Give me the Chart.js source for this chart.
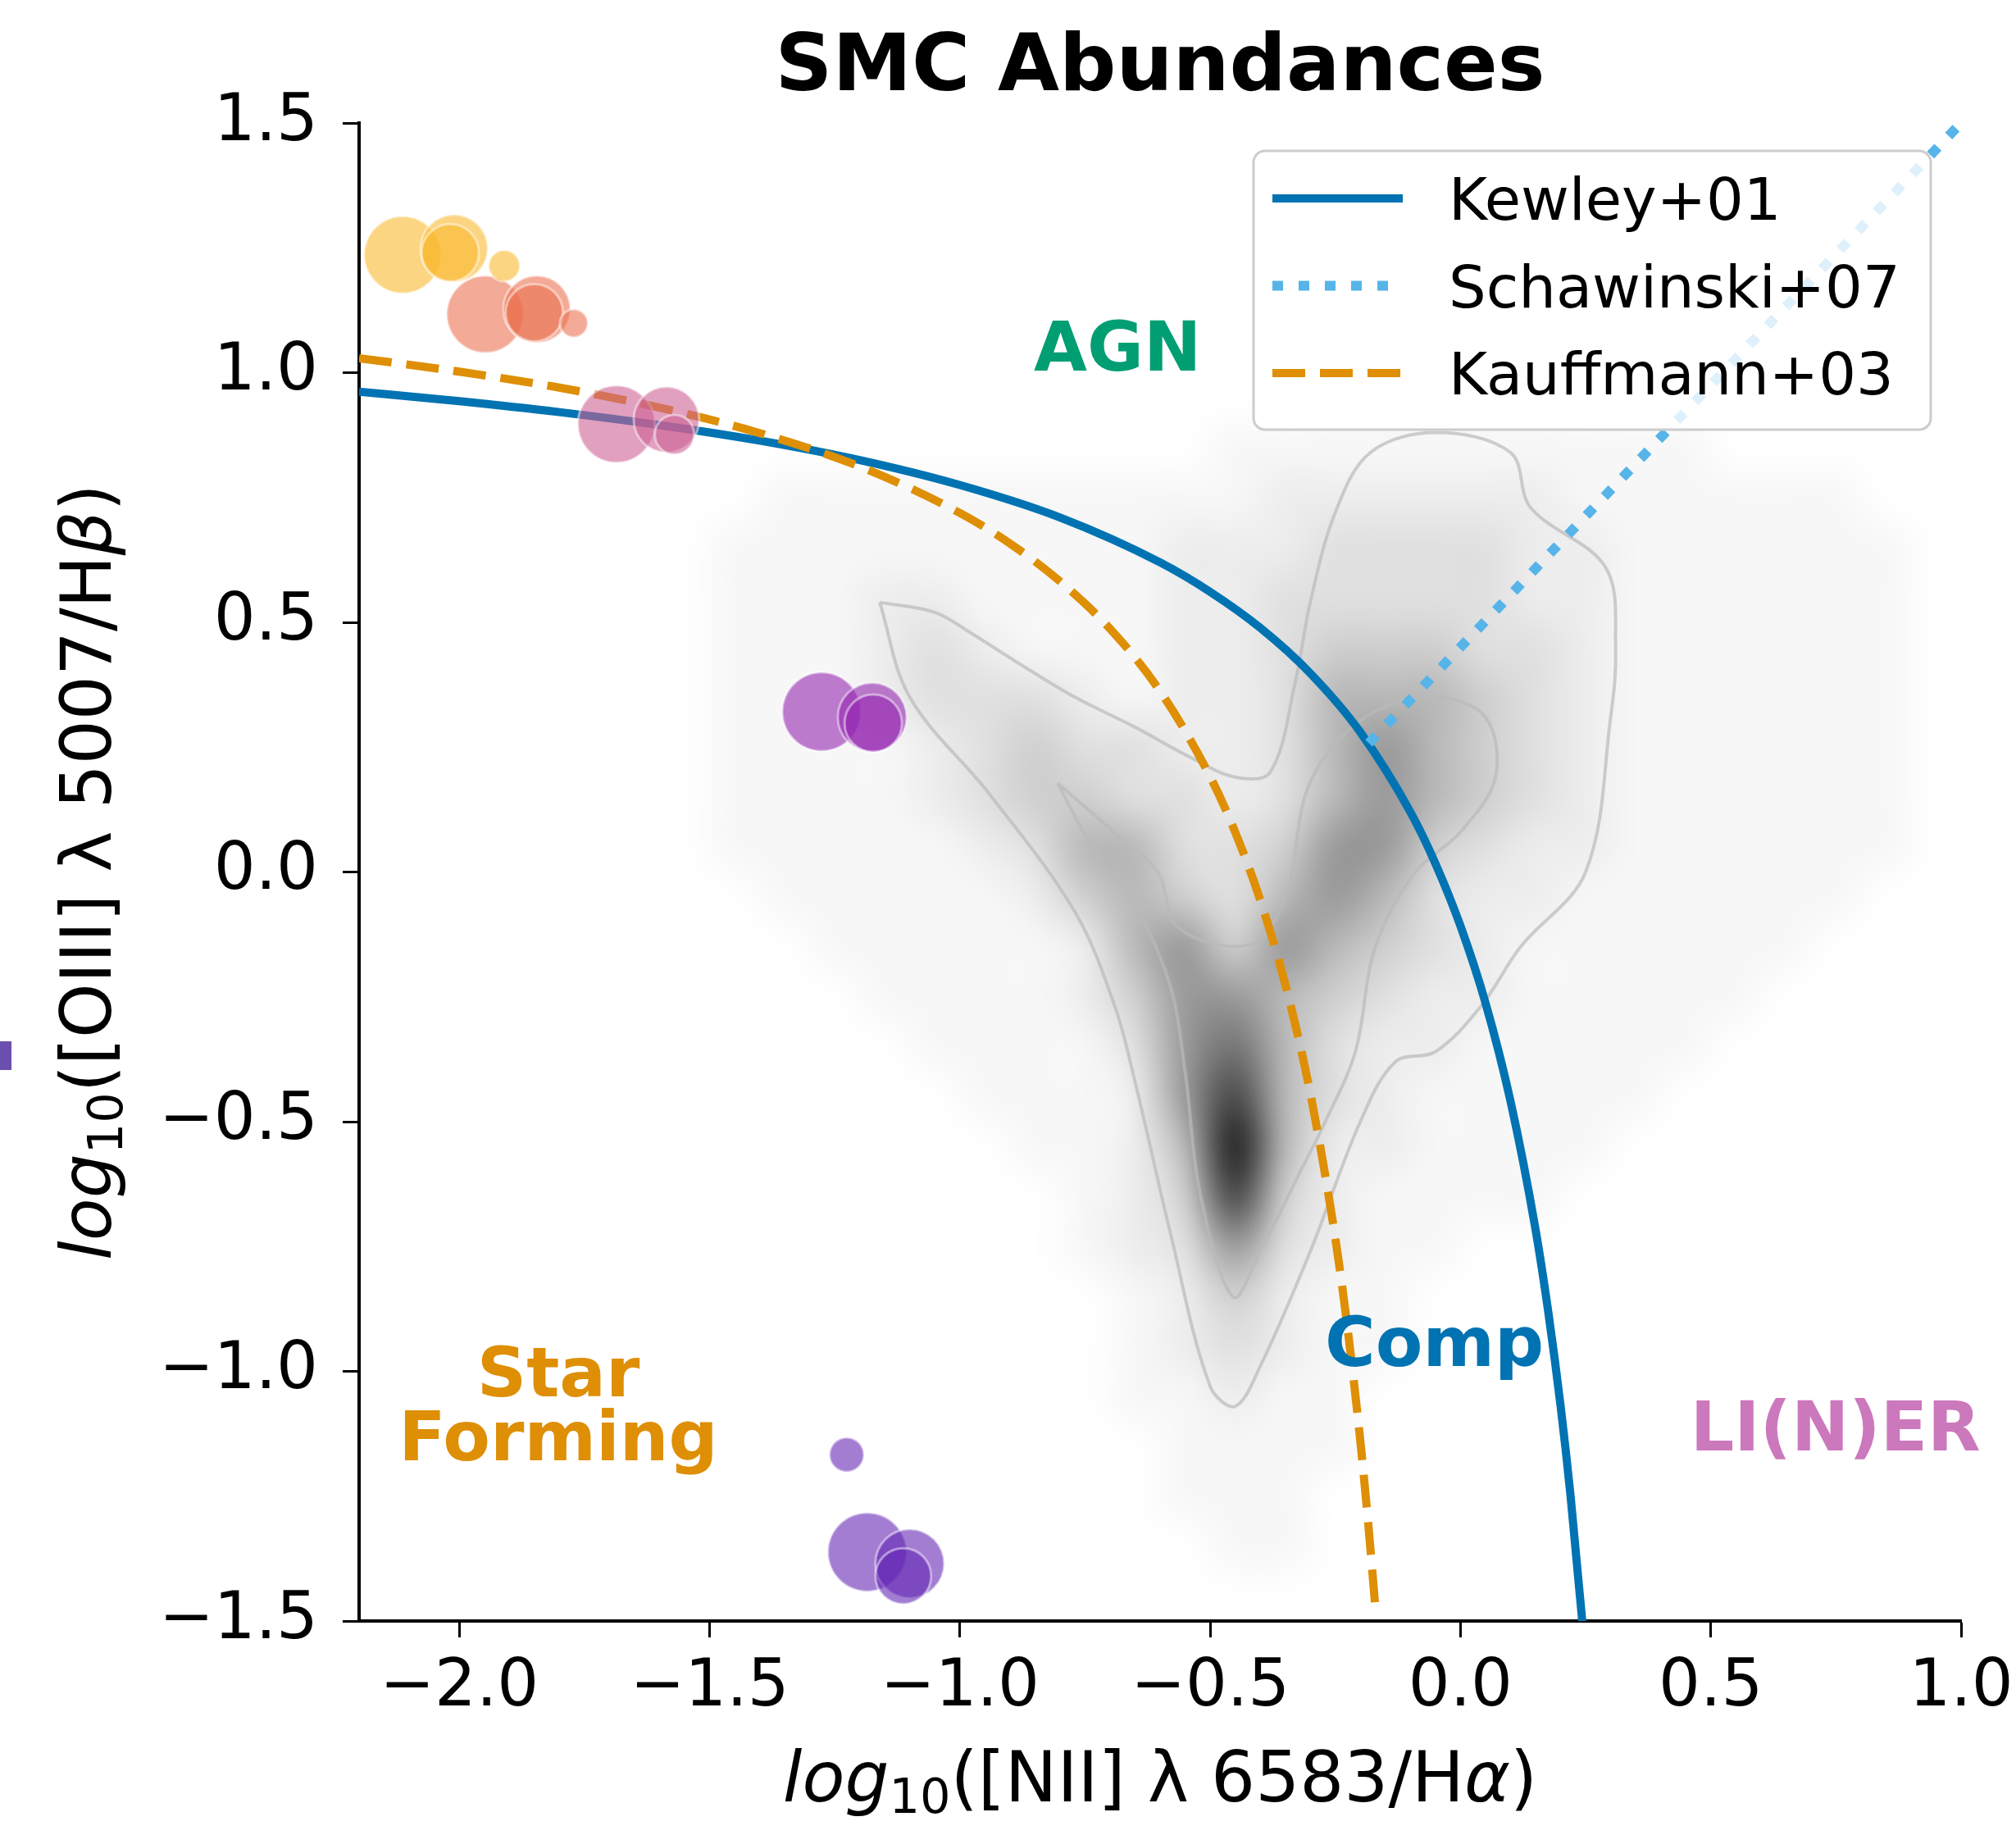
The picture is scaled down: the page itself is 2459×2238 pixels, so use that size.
<!DOCTYPE html>
<html>
<head>
<meta charset="utf-8">
<title>SMC Abundances</title>
<script src="https://cdn.jsdelivr.net/npm/chart.js@4.4.0/dist/chart.umd.min.js"></script>
<style>
html, body { margin:0; padding:0; background:#fff; }
#wrap { width:2459px; height:2238px; }
</style>
</head>
<body>
<div id="wrap"><canvas id="bpt" width="2459" height="2238"></canvas></div>
<script>
// === AXES ===
const xTicks = [-2.0, -1.5, -1.0, -0.5, 0.0, 0.5, 1.0];
const yTicks = [-1.5, -1.0, -0.5, 0.0, 0.5, 1.0, 1.5];

// === DEMARCATION LINES ===
const kewleyX = [-2.2, -2.0, -1.8, -1.6, -1.4, -1.2, -1.0, -0.8, -0.6, -0.5, -0.4, -0.3, -0.2, -0.1, -0.05, 0.0, 0.05, 0.1, 0.15, 0.175, 0.2, 0.22, 0.243, 0.25];
const kewleyY = [0.962, 0.943, 0.921, 0.895, 0.864, 0.825, 0.775, 0.710, 0.620, 0.561, 0.489, 0.398, 0.280, 0.120, 0.017, -0.108, -0.262, -0.459, -0.716, -0.878, -1.069, -1.250, -1.497, -1.583];

const kauffX = [-2.2, -2.0, -1.8, -1.6, -1.4, -1.2, -1.0, -0.9, -0.8, -0.7, -0.6, -0.5, -0.45, -0.4, -0.35, -0.3, -0.25, -0.225, -0.2, -0.185, -0.17];
const kauffY = [1.029, 1.002, 0.970, 0.930, 0.879, 0.812, 0.719, 0.658, 0.582, 0.487, 0.362, 0.191, 0.080, -0.056, -0.225, -0.443, -0.733, -0.918, -1.140, -1.296, -1.473];

const schawX = [-0.183, 1.0];
const schawY = [0.258, 1.5];

// === SMC POINTS ===
const bubbleX = [-2.113, -2.010, -2.018, -1.910,  -1.948, -1.845, -1.850, -1.771,  -1.686, -1.586, -1.570,  -1.276, -1.175, -1.173,  -1.226, -1.185, -1.100, -1.113];
const bubbleY = [1.236, 1.249, 1.240, 1.214,  1.117, 1.127, 1.120, 1.099,  0.897, 0.906, 0.876,  0.321, 0.310, 0.298,  -1.167, -1.362, -1.385, -1.410];
const bubbleSize = [47, 41, 35, 19,  47, 41, 35, 17,  47, 40, 24,  48, 42, 35,  21, 48, 42, 34];
const bubbleGroup = [0, 0, 0, 0,  1, 1, 1, 1,  2, 2, 2,  3, 3, 3,  4, 4, 4, 4];
const groupColors = ['rgba(250,185,47,0.6)', 'rgba(235,113,80,0.6)', 'rgba(205,97,147,0.6)', 'rgba(149,38,177,0.6)', 'rgba(100,38,180,0.6)'];

// === SDSS BACKGROUND: 2D histogram, 0.1 dex cells, levels 0-9 ===
const histX0 = -1.6;   // left edge of first column
const histY0 = 1.0;    // top edge of first row
const histStep = 0.1;
const histRows = [
  '00000000000001111100000000', //  0.95
  '00000000000111111111100000', //  0.85
  '00111111111122222211111100', //  0.75
  '01111111112223333221111110', //  0.65
  '01112211112233333221111110', //  0.55
  '01112321112234443321111110', //  0.45
  '01112333212235554321111110', //  0.35
  '01111234332235654321111110', //  0.25
  '01111234433235654321111110', //  0.15
  '01111123553346643221111110', //  0.05
  '00111112454356532211111100', // -0.05
  '00011111256465432111111000', // -0.15
  '00001111246654322111110000', // -0.25
  '00000111136753221111100000', // -0.35
  '00000011126853211111000000', // -0.45
  '00000001125952211110000000', // -0.55
  '00000000124842111100000000', // -0.65
  '00000000123632110000000000', // -0.75
  '00000000012421100000000000', // -0.85
  '00000000012321100000000000', // -0.95
  '00000000011211000000000000', // -1.05
  '00000000001111000000000000', // -1.15
  '00000000001110000000000000', // -1.25
  '00000000000110000000000000', // -1.35
  '00000000000000000000000000'  // -1.45
];
const grayLevels = [0, 0.03, 0.07, 0.12, 0.19, 0.28, 0.40, 0.55, 0.72, 0.88];

// contour outlines of the SDSS distribution
const outerContX = [-1.16, -1.05, -0.98, -0.87, -0.77, -0.65, -0.54, -0.45, -0.38, -0.33, -0.30, -0.25, -0.18, -0.05, 0.10, 0.14, 0.29, 0.31, 0.30, 0.25, 0.12, 0.04, -0.05, -0.13, -0.20, -0.30, -0.40, -0.45, -0.50, -0.58, -0.65, -0.69, -0.77, -0.94, -1.10, -1.16];
const outerContY = [0.54, 0.52, 0.48, 0.41, 0.35, 0.29, 0.23, 0.19, 0.20, 0.38, 0.54, 0.72, 0.84, 0.88, 0.84, 0.73, 0.61, 0.45, 0.31, 0.00, -0.15, -0.27, -0.36, -0.38, -0.50, -0.76, -0.99, -1.07, -1.03, -0.72, -0.42, -0.27, -0.08, 0.155, 0.35, 0.54];
const innerContX = [-0.805, -0.69, -0.605, -0.563, -0.42, -0.35, -0.30, -0.19, -0.05, 0.05, 0.07, 0.00, -0.09, -0.17, -0.21, -0.27, -0.32, -0.40, -0.454, -0.52, -0.55, -0.58, -0.646, -0.73, -0.805];
const innerContY = [0.178, 0.078, 0.0, -0.112, -0.145, -0.05, 0.18, 0.31, 0.35, 0.31, 0.19, 0.08, 0.0, -0.15, -0.36, -0.50, -0.60, -0.76, -0.851, -0.644, -0.40, -0.227, -0.075, 0.04, 0.178];

// === TEXT ===
const titleText = 'SMC Abundances';
const regionLabels = [
  { text: 'AGN', x: -0.685, y: 1.004, color: '#029e73' },
  { text: 'Comp', x: -0.052, y: -0.989, color: '#0173b2' },
  { text: 'Star', x: -1.802, y: -1.050, color: '#de8f05' },
  { text: 'Forming', x: -1.802, y: -1.178, color: '#de8f05' },
  { text: 'LI(N)ER', x: 0.749, y: -1.158, color: '#cc78bc' }
];

const FONT = '"DejaVu Sans", "Liberation Sans", sans-serif';
const pts = (xs, ys) => xs.map((v, i) => ({ x: v, y: ys[i] }));
const fmt = v => Math.abs(v) < 1e-9 ? '0.0' : (v < 0 ? '\u2212' + Math.abs(v).toFixed(1) : v.toFixed(1));

// === PLUGINS ===
const histPlugin = {
  id: 'sdssHist',
  beforeDatasetsDraw(chart) {
    const { ctx, chartArea, scales: { x, y } } = chart;
    const nx = histRows[0].length, ny = histRows.length;
    const off = document.createElement('canvas');
    off.width = nx; off.height = ny;
    const octx = off.getContext('2d');
    const img = octx.createImageData(nx, ny);
    for (let j = 0; j < ny; j++) {
      for (let i = 0; i < nx; i++) {
        const k = (j * nx + i) * 4;
        img.data[k] = 0; img.data[k + 1] = 0; img.data[k + 2] = 0;
        img.data[k + 3] = Math.round(grayLevels[+histRows[j][i]] * 255);
      }
    }
    octx.putImageData(img, 0, 0);
    const left = x.getPixelForValue(histX0), right = x.getPixelForValue(histX0 + nx * histStep);
    const top = y.getPixelForValue(histY0), bottom = y.getPixelForValue(histY0 - ny * histStep);
    ctx.save();
    ctx.beginPath();
    ctx.rect(chartArea.left, chartArea.top, chartArea.right - chartArea.left, chartArea.bottom - chartArea.top);
    ctx.clip();
    ctx.imageSmoothingEnabled = true;
    ctx.imageSmoothingQuality = 'high';
    ctx.drawImage(off, left, top, right - left, bottom - top);
    ctx.restore();
  }
};

function drawMath(ctx, parts, cx, base, size, rotate) {
  const fontFor = st => st === 'it' ? `italic ${size}px ${FONT}` : st === 'sub' ? `${Math.round(size * 0.7)}px ${FONT}` : `${size}px ${FONT}`;
  let total = 0;
  const widths = parts.map(([t, st]) => { ctx.font = fontFor(st); const w = ctx.measureText(t).width; total += w; return w; });
  ctx.save();
  ctx.translate(cx, base);
  if (rotate) ctx.rotate(-Math.PI / 2);
  ctx.fillStyle = '#000';
  ctx.textAlign = 'left';
  ctx.textBaseline = 'alphabetic';
  let xx = -total / 2;
  parts.forEach(([t, st], k) => {
    ctx.font = fontFor(st);
    ctx.fillText(t, xx, st === 'sub' ? size * 0.16 : 0);
    xx += widths[k];
  });
  ctx.restore();
}

const decorPlugin = {
  id: 'decor',
  afterDatasetsDraw(chart) {
    const { ctx, chartArea, scales: { x, y } } = chart;

    // region names
    ctx.save();
    ctx.font = `bold 84px ${FONT}`;
    ctx.textAlign = 'center';
    ctx.textBaseline = 'alphabetic';
    regionLabels.forEach(l => {
      ctx.fillStyle = l.color;
      ctx.fillText(l.text, x.getPixelForValue(l.x), y.getPixelForValue(l.y));
    });
    ctx.restore();

    // legend box, upper right
    const lines = chart.data.datasets.filter(d => d.inLegend);
    const bx = chartArea.right - 863, by = chartArea.top + 34, bw = 826, bh = 340;
    ctx.save();
    ctx.beginPath();
    ctx.roundRect(bx, by, bw, bh, 14);
    ctx.fillStyle = 'rgba(255,255,255,0.8)';
    ctx.fill();
    ctx.lineWidth = 3;
    ctx.strokeStyle = '#cccccc';
    ctx.stroke();
    lines.forEach((d, i) => {
      const cy = by + 58 + i * 106.5;
      ctx.beginPath();
      ctx.setLineDash(d.borderDash || []);
      ctx.lineDashOffset = 0;
      ctx.lineCap = 'butt';
      ctx.lineWidth = d.borderWidth;
      ctx.strokeStyle = d.borderColor;
      ctx.moveTo(bx + 23, cy);
      ctx.lineTo(bx + 182, cy);
      ctx.stroke();
      ctx.setLineDash([]);
      ctx.fillStyle = '#000';
      ctx.font = `72px ${FONT}`;
      ctx.textAlign = 'left';
      ctx.textBaseline = 'alphabetic';
      ctx.fillText(d.label, bx + 238, cy + 26);
    });
    ctx.restore();
  },
  afterDraw(chart) {
    const { ctx, chartArea } = chart;
    const cx = (chartArea.left + chartArea.right) / 2;
    ctx.save();
    ctx.fillStyle = '#000';
    ctx.font = `bold 97px ${FONT}`;
    ctx.textAlign = 'center';
    ctx.textBaseline = 'alphabetic';
    ctx.fillText(titleText, cx, 110);
    ctx.restore();

    drawMath(ctx, [['log', 'it'], ['10', 'sub'], ['([NII] \u03bb 6583/H', ''], ['\u03b1', 'it'], [')', '']], cx, 2197, 85, false);
    drawMath(ctx, [['log', 'it'], ['10', 'sub'], ['([OIII] \u03bb 5007/H', ''], ['\u03b2', 'it'], [')', '']], 135, (chartArea.top + chartArea.bottom) / 2, 85, true);

    // clipped colour bar edge of the neighbouring panel
    ctx.fillStyle = '#6a4fae';
    ctx.fillRect(0, 1270, 14, 35);
  }
};

// === DATASETS ===
const contourStyle = { type: 'line', showLine: true, pointRadius: 0, borderColor: 'rgba(185,185,185,0.7)', borderWidth: 4, tension: 0.35, fill: false, order: 30 };
const datasets = [
  Object.assign({ label: 'outer contour', data: pts(outerContX, outerContY) }, contourStyle),
  Object.assign({ label: 'inner contour', data: pts(innerContX, innerContY) }, contourStyle),
  { type: 'line', label: 'Kewley+01', inLegend: true, data: pts(kewleyX, kewleyY), showLine: true, pointRadius: 0,
    borderColor: '#0173b2', borderWidth: 10, cubicInterpolationMode: 'monotone', fill: false, order: 12 },
  { type: 'line', label: 'Schawinski+07', inLegend: true, data: pts(schawX, schawY), showLine: true, pointRadius: 0,
    borderColor: '#56b4e9', borderWidth: 12, borderDash: [13, 19], fill: false, order: 11 },
  { type: 'line', label: 'Kauffmann+03', inLegend: true, data: pts(kauffX, kauffY), showLine: true, pointRadius: 0,
    borderColor: '#de8f05', borderWidth: 10, borderDash: [40, 18], cubicInterpolationMode: 'monotone', fill: false, order: 10 }
];
groupColors.forEach((c, g) => {
  const idx = bubbleGroup.map((gg, i) => gg === g ? i : -1).filter(i => i >= 0);
  datasets.push({
    type: 'bubble',
    label: 'SMC ' + g,
    data: idx.map(i => ({ x: bubbleX[i], y: bubbleY[i], r: bubbleSize[i] })),
    backgroundColor: c,
    borderColor: 'rgba(255,255,255,0.45)',
    borderWidth: 3,
    hoverRadius: 0,
    order: 1
  });
});

const axisCommon = {
  type: 'linear',
  grid: { drawOnChartArea: false, drawTicks: true, tickLength: 20, tickWidth: 3, tickColor: '#000' },
  border: { display: true, color: '#000', width: 4 },
};

new Chart(document.getElementById('bpt'), {
  type: 'scatter',
  data: { datasets },
  options: {
    responsive: false,
    animation: false,
    devicePixelRatio: 1,
    events: [],
    layout: { padding: { top: 150, right: 67, bottom: 0, left: 0 } },
    plugins: { legend: { display: false }, tooltip: { enabled: false }, title: { display: false } },
    scales: {
      x: Object.assign({}, axisCommon, {
        min: -2.2, max: 1.0,
        afterFit: s => { s.height = 261; s.paddingLeft = 0; s.paddingRight = 0; },
        afterBuildTicks: s => { s.ticks = xTicks.map(v => ({ value: v })); },
        ticks: { font: { family: FONT, size: 80 }, color: '#000', padding: 14, maxRotation: 0, autoSkip: false, callback: fmt }
      }),
      y: Object.assign({}, axisCommon, {
        min: -1.5, max: 1.5,
        afterFit: s => { s.width = 438; s.paddingTop = 0; s.paddingBottom = 0; },
        afterBuildTicks: s => { s.ticks = yTicks.map(v => ({ value: v })); },
        ticks: { font: { family: FONT, size: 80 }, color: '#000', padding: 30, autoSkip: false, callback: fmt }
      })
    }
  },
  plugins: [histPlugin, decorPlugin]
});
</script>
</body>
</html>
